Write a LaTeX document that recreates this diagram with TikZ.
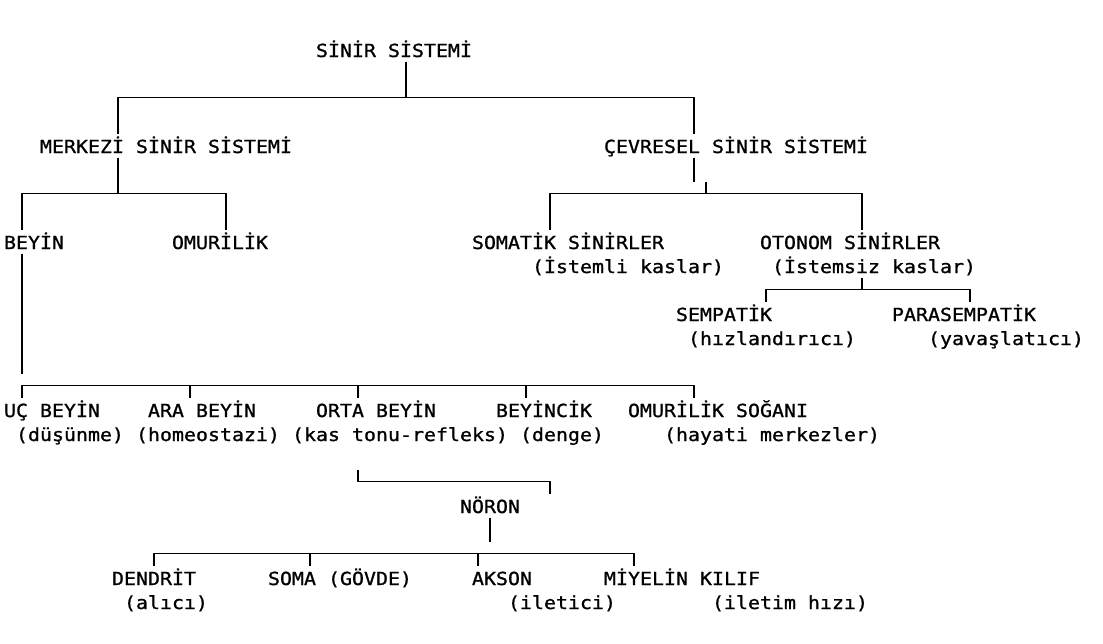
\documentclass[tikz,border=0pt]{standalone}
\usepackage{fontspec}
\newfontfamily\monofam[FakeStretch=1.1074,FakeBold=1]{DejaVu Sans Mono}
\begin{document}
\begin{tikzpicture}[x=1pt,y=-1pt,
  txt/.style={anchor=base west,inner sep=0pt,outer sep=0pt,font=\monofam\fontsize{18}{20}\selectfont},
  ln/.style={line width=1.9pt,line join=miter,line cap=butt}]
\fill[white] (0,0) rectangle (1103,643);
\useasboundingbox (0,0) rectangle (1103,643);
% texts: x = 4 + 12*col, baseline = 57 + 24*line
\node[txt] (r)     at (316,57)  {SİNİR SİSTEMİ};
\node[txt] (mss)   at (40,153)  {MERKEZİ SİNİR SİSTEMİ};
\node[txt] (css)   at (604,153) {ÇEVRESEL SİNİR SİSTEMİ};
\node[txt] (beyin) at (4,249)   {BEYİN};
\node[txt] (omur)  at (172,249) {OMURİLİK};
\node[txt] (som)   at (472,249) {SOMATİK SİNİRLER};
\node[txt] (somd)  at (532,273) {(İstemli kaslar)};
\node[txt] (oto)   at (760,249) {OTONOM SİNİRLER};
\node[txt] (otod)  at (772,273) {(İstemsiz kaslar)};
\node[txt] (sem)   at (676,321) {SEMPATİK};
\node[txt] (semd)  at (688,345) {(hızlandırıcı)};
\node[txt] (para)  at (892,321) {PARASEMPATİK};
\node[txt] (parad) at (928,345) {(yavaşlatıcı)};
\node[txt] (uc)    at (4,417)   {UÇ BEYİN};
\node[txt] (ucd)   at (16,441)  {(düşünme)};
\node[txt] (ara)   at (148,417) {ARA BEYİN};
\node[txt] (arad)  at (136,441) {(homeostazi)};
\node[txt] (orta)  at (316,417) {ORTA BEYİN};
\node[txt] (ortad) at (292,441) {(kas tonu-refleks)};
\node[txt] (bc)    at (496,417) {BEYİNCİK};
\node[txt] (bcd)   at (520,441) {(denge)};
\node[txt] (os)    at (628,417) {OMURİLİK SOĞANI};
\node[txt] (osd)   at (664,441) {(hayati merkezler)};
\node[txt] (noron) at (460,513) {NÖRON};
\node[txt] (den)   at (112,585) {DENDRİT};
\node[txt] (dend)  at (124,609) {(alıcı)};
\node[txt] (soma)  at (268,585) {SOMA (GÖVDE)};
\node[txt] (akson) at (472,585) {AKSON};
\node[txt] (aksond) at (508,609) {(iletici)};
\node[txt] (miy)   at (604,585) {MİYELİN KILIF};
\node[txt] (miyd)  at (712,609) {(iletim hızı)};
% connectors
\coordinate (a0) at (406,61.5);
\coordinate (a1) at (406,97.5);
\draw[ln] (a0) -- (a1);
\draw[ln] (118,133.5) -- (118,97.5) -- (694,97.5) -- (694,133.5);
\draw[ln] (118,157.5) -- (118,193.5);
\draw[ln] (22,229.5) -- (22,193.5) -- (226,193.5) -- (226,229.5);
\draw[ln] (694,157.5) -- (694,181.5);
\draw[ln] (706,181.5) -- (706,193.5);
\draw[ln] (550,229.5) -- (550,193.5) -- (862,193.5) -- (862,229.5);
\draw[ln] (862,277.5) -- (862,289.5);
\draw[ln] (766,301.5) -- (766,289.5) -- (970,289.5) -- (970,301.5);
\draw[ln] (22,253.5) -- (22,373.5);
\draw[ln] (22,397.5) -- (22,385.5) -- (694,385.5) -- (694,397.5);
\foreach \x in {190,358,526} \draw[ln] (\x,385.5) -- (\x,397.5);
\draw[ln] (358,469.5) -- (358,481.5) -- (550,481.5) -- (550,493.5);
\draw[ln] (490,517.5) -- (490,541.5);
\draw[ln] (154,565.5) -- (154,553.5) -- (634,553.5) -- (634,565.5);
\foreach \x in {310,478} \draw[ln] (\x,553.5) -- (\x,565.5);
\end{tikzpicture}
\end{document}
